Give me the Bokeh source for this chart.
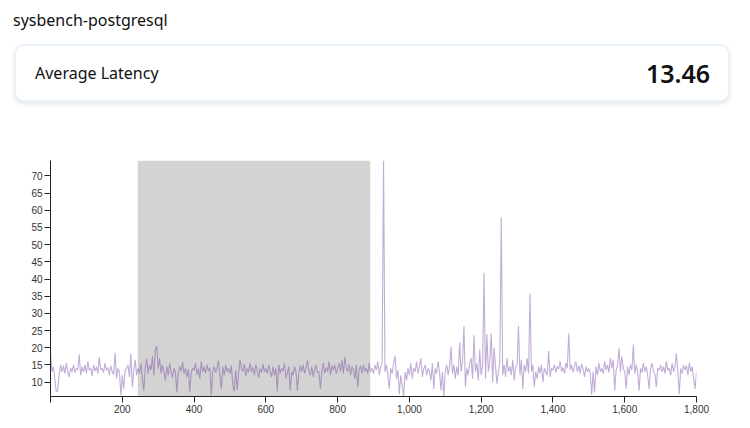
from bokeh.plotting import figure
from bokeh.models import Div, Range1d, FixedTicker, NumeralTickFormatter, BoxAnnotation, ColumnDataSource
from bokeh.layouts import column
from bokeh.embed import file_html
from bokeh.resources import INLINE

title_text = "sysbench-postgresql"
metric_label = "Average Latency"
metric_value = "13.46"

# latency samples, one every 4 s (rows of 100 s)
row00 = [18.5, 13, 14.5, 11, 7.2, 7.5, 12, 15, 13, 14.8, 12.5, 15.5, 13, 11.5, 14, 13, 15, 12.8, 14, 13.5, 18, 12, 14.5, 13, 15]
row01 = [12.5, 16, 13.5, 14, 11.8, 15, 13.2, 14.5, 12.5, 17.2, 13.5, 14, 12.8, 15.5, 13.4, 14.2, 12, 14.8, 13, 12.2, 18.5, 11, 14, 13, 6.2]
row02 = [12, 8, 13.5, 14, 15, 11.5, 18.3, 8.5, 13.5, 16.5, 12, 14, 12.5, 15.5, 11, 7.5, 14, 16.8, 12.5, 15, 13.5, 17.5, 12, 19.5, 20.5]
row03 = [14, 17, 12.5, 15, 13, 10.5, 14.5, 12, 15.5, 13, 11.2, 14, 13, 7, 12.5, 14.5, 13.2, 15.8, 12.5, 14, 11.5, 13.8, 7.2, 12.8, 14]
row04 = [13.5, 15.5, 12.2, 14, 11, 16, 13, 14.5, 12.5, 15, 13.3, 14.2, 6.2, 13, 14.5, 12.8, 14, 16.3, 12, 8, 14.5, 12, 15, 13, 14]
row05 = [12.5, 14.8, 9, 7.3, 13.5, 7.8, 12.5, 16.6, 14, 13, 15.2, 11.8, 14, 12.8, 15.5, 13, 14.3, 12, 15, 13.5, 11.2, 14, 12.7, 15.2, 13]
row06 = [14, 12.5, 15, 13, 11.5, 14.5, 12, 14, 7.3, 15, 12.5, 14, 13.2, 15.5, 11, 12.8, 14.5, 7.5, 13, 12, 14.5, 13, 7.5, 12.5, 14.8]
row07 = [13, 15, 12.5, 14, 16.3, 13, 12, 14.5, 11.5, 13.5, 15, 12.8, 13, 8, 13, 15.5, 12.5, 14.2, 13, 16, 12, 14.8, 13.5, 15, 12.5]
row08 = [14, 15.5, 13, 16.5, 12.5, 17.3, 14, 13, 15.2, 12, 14.5, 13.5, 11, 15, 8.5, 13.5, 14.8, 12.5, 15, 13.2, 14, 12.5, 15.5, 13, 14]
row09 = [12.5, 15, 13.5, 16, 12, 14.5, 15.5, 74.5, 13, 15, 12, 8, 14, 12.5, 15.5, 17.6, 11, 13.5, 6.5, 12, 9, 6.0, 13, 10.5, 14]
row10 = [12, 15.5, 11, 14, 13, 16, 12.5, 14.5, 17, 11.5, 13.8, 15, 12, 14, 13, 10.5, 15.5, 8, 14, 12.5, 16, 13, 7.5, 13, 5.8]
row11 = [13, 15, 12, 14.5, 20.3, 12.5, 15, 11, 14.5, 12, 21.6, 13, 16, 26.3, 8.6, 14, 12, 15.5, 17, 11, 23.6, 13, 15.5, 10.5, 19.4]
row12 = [12, 15, 41.8, 11, 24, 13, 16, 24.2, 10, 20, 14.5, 9.5, 13, 16, 57.9, 12, 15, 11.5, 17, 13, 14.5, 12, 16.5, 10.5, 14.5]
row13 = [15, 26.3, 12, 16.5, 8, 15, 13, 17, 12.5, 35.7, 13, 15, 8.6, 13, 11, 14.5, 12.5, 15, 10, 14, 13, 12, 19, 11.5, 14]
row14 = [13.5, 15, 12.8, 14.5, 13.8, 16, 13, 14.2, 12.5, 15.5, 14, 24.2, 13.5, 15, 12.8, 14.5, 16, 13, 14.8, 12.5, 15.2, 13.8, 11.5, 14.5, 13]
row15 = [14, 12.5, 6.3, 13, 7, 14.5, 12, 15.5, 13, 14, 12.5, 16, 13.5, 15, 12.8, 17, 14, 16.5, 7.5, 13.5, 15, 19.8, 13, 17.5, 14]
row16 = [13, 8, 14.5, 12, 15, 13.5, 20.9, 12.5, 15, 13, 7.5, 14, 12.8, 15.5, 13, 14.5, 12, 8, 14, 15.5, 13, 12.5, 8.5, 14, 13.5]
row17 = [15, 13, 14.5, 12.5, 16, 13.5, 14, 12, 15.5, 13, 14.5, 18.3, 13, 6.5, 14, 12.5, 15, 13.5, 14.8, 12, 15.5, 13, 14.5, 11, 8]
last_value = [13]

rows = [row00, row01, row02, row03, row04, row05, row06, row07, row08, row09,
        row10, row11, row12, row13, row14, row15, row16, row17, last_value]
latency = [v for r in rows for v in r]
step = 4
seconds = [i * step for i in range(len(latency))]

highlight_start = 243
highlight_end = 891

x_ticks = [0, 200, 400, 600, 800, 1000, 1200, 1400, 1600, 1800]
y_ticks = [10, 15, 20, 25, 30, 35, 40, 45, 50, 55, 60, 65, 70]

header = Div(
    text=f"""
<div style="position:relative;width:734px;height:122px;font-family:'Noto Sans',sans-serif;color:#111;">
  <div style="position:absolute;left:5px;top:1px;font-size:16px;line-height:22px;">{title_text}</div>
  <div style="position:absolute;left:6px;top:36px;width:716px;height:58px;box-sizing:border-box;
              border:2px solid #e9f2fb;border-radius:10px;background:#fff;
              box-shadow:0 2px 4px rgba(0,0,0,0.10);">
    <div style="position:absolute;left:19px;top:0;height:54px;line-height:54px;font-size:16px;">{metric_label}</div>
    <div style="position:absolute;right:18px;top:0;height:54px;line-height:54px;font-size:25px;font-weight:600;letter-spacing:0px;">{metric_value}</div>
  </div>
</div>""",
    width=734, height=122, margin=(8, 0, 0, 8),
)

source = ColumnDataSource(dict(t=seconds, v=latency))

p = figure(width=734, height=290, output_backend="svg", toolbar_location=None,
           x_range=Range1d(0, 1800), y_range=Range1d(min(latency), max(latency)),
           min_border_left=42, min_border_right=46, min_border_top=30, min_border_bottom=24,
           margin=(0, 0, 0, 8))
p.outline_line_color = None
p.grid.visible = False
p.background_fill_color = "white"

p.add_layout(BoxAnnotation(left=highlight_start, right=highlight_end,
                           fill_color="#d3d3d3", fill_alpha=1.0, line_color=None, level="underlay"))

p.line("t", "v", source=source, line_color="rebeccapurple", line_alpha=0.4, line_width=1.1)

p.xaxis.ticker = FixedTicker(ticks=x_ticks)
p.xaxis.formatter = NumeralTickFormatter(format="0,0")
p.xaxis.major_label_overrides = {0: ""}
p.yaxis.ticker = FixedTicker(ticks=y_ticks)
for ax in (p.xaxis[0], p.yaxis[0]):
    ax.axis_line_color = "#222"
    ax.major_tick_line_color = "#222"
    ax.major_tick_out = 6
    ax.major_tick_in = 0
    ax.minor_tick_out = 0
    ax.minor_tick_in = 0
    ax.major_label_text_font = "Liberation Sans"
    ax.major_label_text_font_size = "10px"
    ax.major_label_text_color = "#333"
    ax.major_label_standoff = 2

layout = column(header, p, spacing=0)
open("out.html", "w").write(file_html(layout, INLINE))
